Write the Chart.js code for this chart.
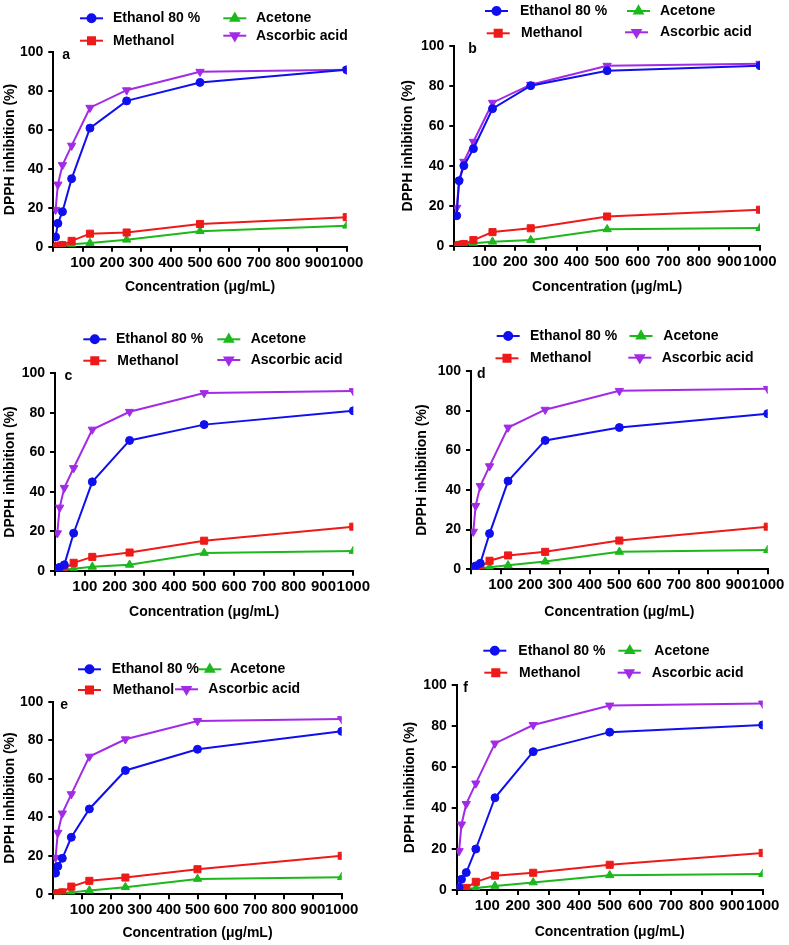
<!DOCTYPE html>
<html>
<head>
<meta charset="utf-8">
<script src="https://cdn.jsdelivr.net/npm/chart.js@4.4.1/dist/chart.umd.min.js"></script>
<style>
  body { margin: 0; background: #fff; width: 789px; height: 945px; position: relative; overflow: hidden; }
  .cell { position: absolute; }
</style>
</head>
<body>
<script>
// concentrations (µg/mL), same for every panel
const conc = [7.8125, 15.625, 31.25, 62.5, 125, 250, 500, 1000]
const seriesNames = ['Ethanol 80 %', 'Methanol', 'Acetone', 'Ascorbic acid']
const panelLetters = ['a', 'b', 'c', 'd', 'e', 'f']

// DPPH inhibition (%)
const ascorbic = [19, 32, 42, 52, 71.5, 80.5, 90, 91]

const ethanolA = [5, 12, 18, 35, 61, 75, 84.5, 91]
const methanolA = [0, 0.3, 0.8, 3, 6.7, 7.3, 11.7, 15.2]
const acetoneA = [0, 0.2, 0.5, 1.2, 1.9, 3.6, 8, 10.8]

const ethanolB = [15, 32.5, 40, 48.5, 68.5, 80, 87.5, 90]
const methanolB = [0, 0.3, 0.8, 2.8, 6.8, 8.7, 14.6, 18]
const acetoneB = [0, 0.2, 0.5, 1.2, 2, 2.8, 8.2, 8.8]

const ethanolC = [1, 1.7, 3, 19, 45, 66, 74, 81]
const methanolC = [0, 0.5, 1, 4, 7, 9.2, 15.2, 22.3]
const acetoneC = [0, 0.2, 0.5, 1, 2, 3, 9, 10]

const ethanolD = [0.8, 1.7, 3, 18, 44.5, 65, 71.5, 78.5]
const methanolD = [0, 0.3, 1, 4.3, 7, 8.8, 14.5, 21.5]
const acetoneD = [0, 0.2, 0.5, 1, 2, 3.9, 8.8, 9.7]

const ethanolE = [11, 14.5, 18.7, 29.6, 44.3, 64.3, 75.3, 84.6]
const methanolE = [0.3, 0.5, 1, 4, 7, 8.7, 13, 20]
const acetoneE = [0, 0.2, 0.5, 1, 2, 3.7, 8, 8.9]

const ethanolF = [1.2, 5.2, 8.5, 20, 45, 67.5, 77, 80.5]
const methanolF = [0, 0.3, 1, 4, 7, 8.4, 12.3, 18.1]
const acetoneF = [0, 0.2, 0.5, 1, 2, 3.7, 7.2, 7.8]

const colors = ['#1010ee', '#ee1a1a', '#1cb81c', '#a22be6']
const FONT = 'Arial, "Liberation Sans", sans-serif'

// layout of each panel (page pixels): cell box, axis corner, text offsets, legend spots
const panels = [
  { data: [ethanolA, methanolA, acetoneA], cell: [0, 0, 395, 305], ax: 53.3, ty: 52.3, by: 246.7, rx: 346.7, ytx: 10, xtGap: 40.8, ldx: 9,
    leg: [[80, 113, 18.3], [80, 113, 40.7], [223.3, 256, 18.3], [223.3, 256, 35.7]] },
  { data: [ethanolB, methanolB, acetoneB], cell: [395, 0, 394, 305], ax: 454.3, ty: 45.7, by: 245.7, rx: 760, ytx: 408, xtGap: 41.3, ldx: 14,
    leg: [[485, 520, 11], [486.7, 521, 33.3], [627, 660, 11], [625, 660, 32.3]] },
  { data: [ethanolC, methanolC, acetoneC], cell: [0, 305, 395, 320], ax: 55, ty: 373.3, by: 570.7, rx: 353.3, ytx: 10, xtGap: 41, ldx: 9.5,
    leg: [[83.3, 116, 339.3], [83.3, 117.3, 360.7], [217.3, 250.7, 339.3], [217.3, 250.7, 360]] },
  { data: [ethanolD, methanolD, acetoneD], cell: [395, 305, 394, 320], ax: 471, ty: 371, by: 569.3, rx: 767.7, ytx: 422.3, xtGap: 42.4, ldx: 6,
    leg: [[496.7, 530, 336], [495.5, 530, 358.3], [629.5, 663.3, 336], [628.3, 661.7, 357.7]] },
  { data: [ethanolE, methanolE, acetoneE], cell: [0, 625, 395, 320], ax: 53.3, ty: 701.7, by: 894.3, rx: 341.7, ytx: 10, xtGap: 39, ldx: 7,
    leg: [[78, 111.7, 669.3], [78, 112.7, 690], [198.3, 230, 669.3], [175, 208.3, 689.3]] },
  { data: [ethanolF, methanolF, acetoneF], cell: [395, 625, 394, 320], ax: 456.7, ty: 685, by: 890, rx: 762.7, ytx: 410, xtGap: 41.7, ldx: 6.5,
    leg: [[483.3, 518.3, 650.7], [484.3, 519, 672.7], [618.3, 654.3, 650.7], [617.7, 651.7, 672.7]] }
]

// legend order in the figure: Ethanol, Methanol (col 1), Acetone, Ascorbic (col 2)
const legendPlugin = {
  id: 'panelLegend',
  afterDraw(chart, args, opts) {
    const ctx = chart.ctx
    const ox = opts.ox, oy = opts.oy
    ctx.save()
    ctx.font = 'bold 14px ' + FONT
    ctx.textBaseline = 'middle'
    ctx.textAlign = 'left'
    opts.items.forEach((it, i) => {
      const ds = chart.data.datasets[i]
      const x = it[0] - ox, y = it[2] - oy
      ctx.strokeStyle = ds.borderColor
      ctx.lineWidth = 2
      ctx.beginPath()
      ctx.moveTo(x, y)
      ctx.lineTo(x + 23, y)
      ctx.stroke()
      ctx.fillStyle = ds.borderColor
      Chart.helpers.drawPoint(ctx, { pointStyle: ds.pointStyle, rotation: ds.pointRotation || 0, radius: ds.pointRadius, borderWidth: 1 }, x + 11.5, y)
      ctx.fillStyle = '#000'
      ctx.fillText(seriesNames[i], it[1] - ox, y)
    })
    // panel letter
    ctx.fillText(opts.letter, chart.chartArea.left + opts.ldx, chart.chartArea.top + 3)
    ctx.restore()
  }
}

const makeSet = (i, vals, style, radius, rot) => ({
  label: seriesNames[i],
  data: conc.map((c, k) => ({ x: c, y: vals[k] })),
  borderColor: colors[i],
  backgroundColor: colors[i],
  borderWidth: 2,
  pointStyle: style,
  pointRadius: radius,
  pointRotation: rot || 0,
  pointBorderWidth: 1,
  tension: 0
})

panels.forEach((p, n) => {
  const [cl, ct, cw, ch] = p.cell
  const div = document.createElement('div')
  div.className = 'cell'
  div.style.left = cl + 'px'
  div.style.top = ct + 'px'
  div.style.width = cw + 'px'
  div.style.height = ch + 'px'
  const cv = document.createElement('canvas')
  div.appendChild(cv)
  document.body.appendChild(div)

  const yw = p.ax - p.ytx + 8.4
  const xh = p.xtGap + 8.4
  const textFont = { family: FONT, size: 14, weight: 'bold' }
  const xTickFont = { family: FONT, size: 15, weight: 'bold' }

  new Chart(cv, {
    type: 'line',
    data: {
      datasets: [
        makeSet(0, p.data[0], 'circle', 4),
        makeSet(1, p.data[1], 'rect', 5),
        makeSet(2, p.data[2], 'triangle', 4.8),
        makeSet(3, ascorbic, 'triangle', 4.8, 180)
      ]
    },
    options: {
      responsive: true,
      maintainAspectRatio: false,
      animation: false,
      layout: {
        padding: { left: p.ax - cl - yw, top: p.ty - ct, right: cl + cw - p.rx, bottom: ct + ch - p.by - xh }
      },
      scales: {
        x: {
          type: 'linear', min: 0, max: 1000,
          afterFit: s => { s.height = xh },
          ticks: { stepSize: 100, autoSkip: false, maxRotation: 0, minRotation: 0, color: '#000', font: xTickFont, padding: 2,
            callback: v => v === 0 ? '' : v },
          grid: { drawOnChartArea: false, drawTicks: true, tickLength: 5, color: '#000', lineWidth: 2 },
          border: { color: '#000', width: 2 },
          title: { display: true, text: 'Concentration (μg/mL)', color: '#000', font: textFont, padding: 0 }
        },
        y: {
          min: 0, max: 100,
          afterFit: s => { s.width = yw },
          ticks: { stepSize: 20, color: '#000', font: textFont, padding: 5 },
          grid: { drawOnChartArea: false, drawTicks: true, tickLength: 5, color: '#000', lineWidth: 2 },
          border: { color: '#000', width: 2 },
          title: { display: true, text: 'DPPH inhibition (%)', color: '#000', font: textFont, padding: 0 }
        }
      },
      plugins: {
        legend: { display: false },
        tooltip: { enabled: false },
        panelLegend: { items: p.leg, ox: cl, oy: ct, letter: panelLetters[n], ldx: p.ldx }
      }
    },
    plugins: [legendPlugin]
  })
})
</script>
</body>
</html>
